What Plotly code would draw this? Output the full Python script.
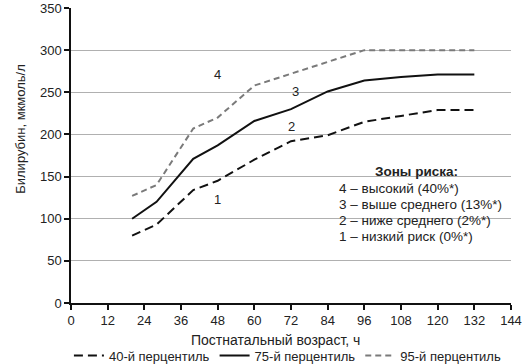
import plotly.graph_objects as go

hours = [20, 28, 40, 48, 60, 72, 84, 96, 108, 120, 132]
p40 = [80, 93, 134, 145, 170, 192, 199, 215, 222, 229, 229]
p75 = [100, 120, 171, 187, 216, 230, 251, 264, 268, 271, 271]
p95 = [127, 140, 207, 220, 258, 272, 286, 300, 300, 300, 300]

names = ["40-й перцентиль", "75-й перцентиль", "95-й перцентиль"]
zone_labels = ["4", "3", "2", "1"]
zone_x = [48, 73.5, 72, 48]
zone_y = [271, 251, 209, 123]
risk_title = "Зоны риска:"
risk_lines = ["4 – высокий (40%*)", "3 – выше среднего (13%*)",
              "2 – ниже среднего (2%*)", "1 – низкий риск (0%*)"]
x_ticks = list(range(0, 145, 12))
y_ticks = list(range(0, 351, 50))

FONT = "Liberation Sans, Arial, sans-serif"

fig = go.Figure()
fig.add_trace(go.Scatter(x=hours, y=p40, mode="lines", name=names[0],
                         line=dict(color="#111111", width=2, dash="9px,5px")))
fig.add_trace(go.Scatter(x=hours, y=p75, mode="lines", name=names[1],
                         line=dict(color="#111111", width=2)))
fig.add_trace(go.Scatter(x=hours, y=p95, mode="lines", name=names[2],
                         line=dict(color="#7a7a7a", width=2, dash="6px,4px")))

for t, x, y in zip(zone_labels, zone_x, zone_y):
    fig.add_annotation(x=x, y=y, text=t, showarrow=False,
                       font=dict(size=13, color="#222"))

fig.add_annotation(x=113, y=156, text="<b>" + risk_title + "</b>", showarrow=False,
                   font=dict(size=13.5, color="#222"), xanchor="center", yanchor="middle")
for i, line in enumerate(risk_lines):
    fig.add_annotation(x=87.1, y=136.2 - i * 19, text=line, showarrow=False,
                       font=dict(size=13.5, color="#222"), xanchor="left", yanchor="middle")

fig.add_annotation(xref="paper", yref="paper", x=0.464, y=-0.127,
                   text="Постнатальный возраст, ч", showarrow=False,
                   font=dict(size=14, color="#222"), xanchor="center", yanchor="middle")
fig.add_annotation(xref="paper", yref="paper", x=-0.115, y=0.592,
                   text="Билирубин, мкмоль/л", showarrow=False, textangle=-90,
                   font=dict(size=13, color="#222"), xanchor="center", yanchor="middle")

fig.update_layout(
    width=531, height=364,
    margin=dict(l=71, r=20, t=8, b=61, autoexpand=False),
    plot_bgcolor="white", paper_bgcolor="white",
    font=dict(family=FONT, size=13, color="#222"),
    showlegend=True,
    legend=dict(orientation="h", x=0.493, xanchor="center", y=-0.178, yanchor="middle",
                font=dict(size=13), itemwidth=30, tracegroupgap=0,
                bgcolor="rgba(0,0,0,0)"),
    xaxis=dict(range=[0, 144], tickvals=x_ticks, showgrid=False, zeroline=False,
               showline=True, linecolor="#111", linewidth=1.5, automargin=False,
               ticks="outside", ticklen=5, tickcolor="#111", tickwidth=1.5),
    yaxis=dict(range=[0, 350], tickvals=y_ticks, showgrid=True, gridcolor="#b0b0b0",
               gridwidth=1, zeroline=False, showline=True, linecolor="#111", linewidth=1.5,
               automargin=False,
               ticks="outside", ticklen=5, tickcolor="#111", tickwidth=1.5),
)

fig.write_html("out.html", config={"displayModeBar": False},
               post_script="document.body.style.margin='0';document.body.style.overflow='hidden';")
